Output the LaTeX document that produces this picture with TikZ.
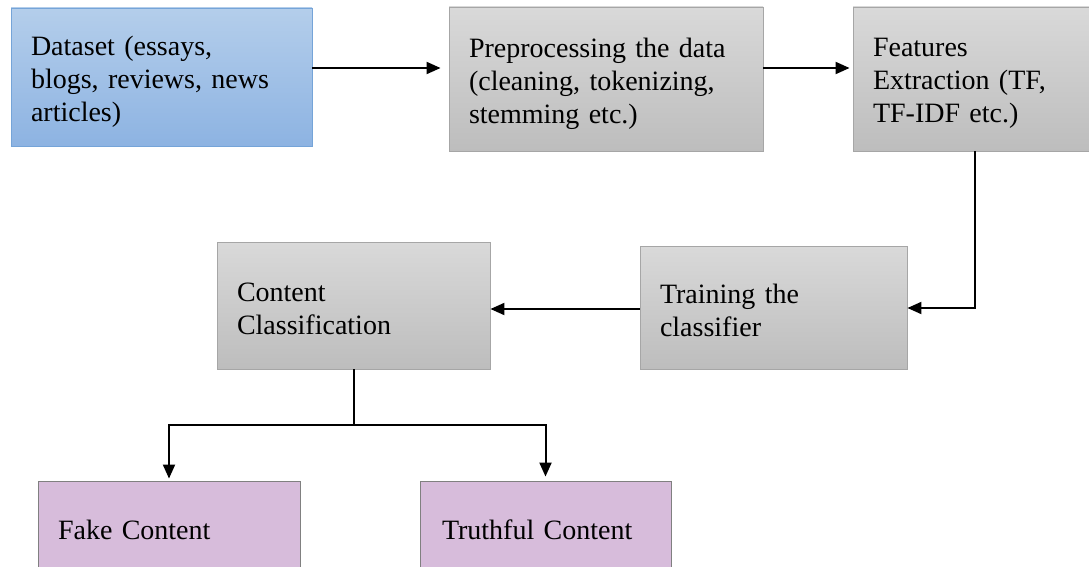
\documentclass[tikz,border=0pt]{standalone}
\usepackage{fontspec}
\setmainfont{Liberation Serif}
\usetikzlibrary{arrows.meta,shadings}
\definecolor{bluetop}{HTML}{B4CEEB}
\definecolor{bluebot}{HTML}{8DB3E2}
\definecolor{blueline}{HTML}{75A4D8}
\definecolor{graytop}{HTML}{D9D9D9}
\definecolor{graybot}{HTML}{BDBDBD}
\definecolor{grayline}{HTML}{A6A6A6}
\definecolor{purplefill}{HTML}{D7BCDB}
\definecolor{purpleline}{HTML}{808080}
\newcommand\lift[1]{\rule{0pt}{#1pt}}
\tikzset{
  box/.style={rectangle, inner sep=0pt, align=left,
    font=\fontsize{28}{33}\selectfont, line width=0.9pt},
  bluebox/.style={box, draw=blueline, top color=bluetop, bottom color=bluebot},
  graybox/.style={box, draw=grayline, top color=graytop, bottom color=graybot},
  purplebox/.style={box, draw=purpleline, fill=purplefill},
  arr/.style={line width=2pt, -{Triangle[length=14pt,width=12pt]}},
  seg/.style={line width=2pt}
}
\begin{document}
\begin{tikzpicture}[x=1pt,y=-1pt]
\useasboundingbox (0,0) rectangle (1089,567);
\node[bluebox, minimum width=301pt, minimum height=138pt, text width=261pt] (data) at (161.5,77)
  {\lift{29}Dataset (essays,\\blogs, reviews, news\\articles)};
\node[graybox, minimum width=314pt, minimum height=144pt, text width=274pt] (prep) at (606,79)
  {\lift{29}Preprocessing the data\\(cleaning, tokenizing,\\stemming etc.)};
\node[graybox, minimum width=244pt, minimum height=144pt, text width=204pt] (feat) at (975,79)
  {\lift{27}Features\\Extraction (TF,\\TF-IDF etc.)};
\node[graybox, minimum width=267pt, minimum height=123pt, text width=227pt] (train) at (773.5,307.5)
  {\lift{25}Training the\\classifier};
\node[graybox, minimum width=273pt, minimum height=127pt, text width=233pt] (cont) at (353.5,305.5)
  {\lift{25}Content\\Classification};
\node[purplebox, minimum width=262pt, minimum height=98pt, text width=222pt] (fake) at (169,530)
  {Fake Content};
\node[purplebox, minimum width=251pt, minimum height=98pt, text width=207pt] (truth) at (545.5,530)
  {Truthful Content};
\coordinate (r1) at (0,68);
\coordinate (j1) at (975,308);
\coordinate (r2) at (0,309);
\coordinate (y2) at (0,425);
\draw[arr, shorten >=8pt] (data.east |- r1) -- (prep.west |- r1);
\draw[arr, shorten >=3pt] (prep.east |- r1) -- (feat.west |- r1);
\draw[arr] (feat.south) -- (j1) -- (train.east |- j1);
\draw[arr] (train.west |- r2) -- (cont.east |- r2);
\coordinate (j2) at (cont.south |- y2);
\draw[seg] (cont.south) -- (j2);
\draw[arr, shorten >=2pt] (j2) -| (fake.north);
\draw[arr, shorten >=4pt] (j2) -| (truth.north);
\end{tikzpicture}
\end{document}
